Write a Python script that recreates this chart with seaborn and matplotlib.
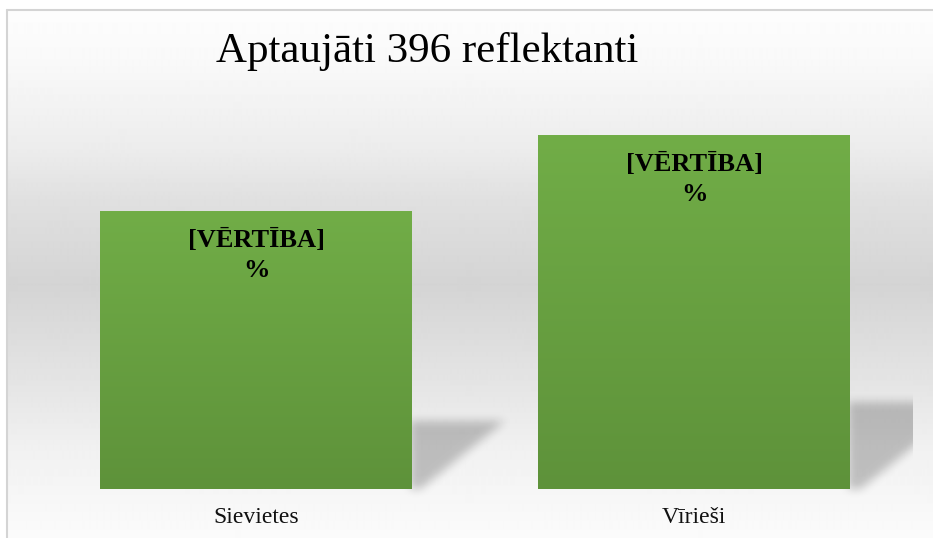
import numpy as np
import seaborn as sns
import matplotlib
matplotlib.use("Agg")
import matplotlib.pyplot as plt
from matplotlib.colors import LinearSegmentedColormap
from matplotlib.lines import Line2D
from matplotlib.path import Path

# data
categories = ["Sievietes", "Vīrieši"]
values = [44, 56]
bar_label = "[VĒRTĪBA]\n%"
title = "Aptaujāti 396 reflektanti"

sns.set_theme(style="white")
plt.rcParams['font.family'] = ['Liberation Serif', 'DejaVu Serif']

W, H = 933, 538


def fx(px):
    return px / W


def fy(py):
    # pixel row from top -> figure fraction
    return 1 - py / H


def box_blur(a, r):
    for axis in (0, 1):
        n = a.shape[axis]
        pad = [(r, r) if i == axis else (0, 0) for i in range(2)]
        c = np.cumsum(np.pad(a, pad, mode='edge'), axis=axis)
        c = np.insert(c, 0, 0, axis=axis)
        if axis == 0:
            a = (c[2 * r + 1:2 * r + 1 + n] - c[:n]) / (2 * r + 1)
        else:
            a = (c[:, 2 * r + 1:2 * r + 1 + n] - c[:, :n]) / (2 * r + 1)
    return a


fig = plt.figure(figsize=(9.33, 5.38), dpi=100)

# chart area background: white -> grey -> white
bg = fig.add_axes([fx(8), 0, 1 - fx(8), fy(10)], zorder=0)
rows = np.arange(10, H)
grey = np.interp(rows, [10, 60, 150, 200, 285, 380, 450, 538],
                 [253, 249, 236, 224, 212, 228, 241, 251]) / 255
bg.imshow(np.repeat(grey[:, None], 2, axis=1), cmap='gray', vmin=0, vmax=1,
          aspect='auto', extent=(0, 1, 0, 1), interpolation='bilinear')
bg.set_axis_off()

# main axes
ax = fig.add_axes([fx(37), 1 - 489 / H, fx(876), 379 / H], zorder=2)
ax.patch.set_visible(False)
sns.barplot(x=categories, y=values, width=0.712, color='#70ad47',
            saturation=1, ax=ax)
ax.set_xlim(-0.5, 1.5)
ax.set_ylim(0, 60)
sns.despine(ax=ax, left=True, bottom=True)
ax.set_yticks([])
ax.set_xlabel('')
ax.set_ylabel('')
ax.tick_params(axis='x', length=0, pad=13, labelsize=17, labelcolor='#111111')

# gradient fill on each bar
bar_cmap = LinearSegmentedColormap.from_list('bar', ['#5e923a', '#71ad47'])
grad = np.linspace(0, 1, 256).reshape(-1, 1)
for patch in ax.patches:
    patch.set_edgecolor('none')
    x0, w, h = patch.get_x(), patch.get_width(), patch.get_height()
    im = ax.imshow(grad, extent=(x0, x0 + w, 0, h), origin='lower',
                   cmap=bar_cmap, aspect='auto', zorder=patch.get_zorder() + 0.1)
    im.set_clip_path(patch)
    ax.annotate(bar_label, xy=(x0 + w / 2, h), xytext=(0, -18),
                textcoords='offset pixels', ha='center', va='top',
                fontsize=19, fontweight='bold', color='black',
                linespacing=1.4, zorder=5)
ax.set_xlim(-0.5, 1.5)
ax.set_ylim(0, 60)

# soft perspective shadows behind the bars
sh = fig.add_axes([0, 0, 1, 1], zorder=1)
sh.set_axis_off()
xs = np.arange(W) + 0.5
ys = np.arange(H) + 0.5
XX, YY = np.meshgrid(xs, ys)
pts = np.column_stack([XX.ravel(), YY.ravel()])
mask = np.zeros((H, W))
for patch in ax.patches:
    x0, w, h = patch.get_x(), patch.get_width(), patch.get_height()
    (xl, yb), (xr, yt) = ax.transData.transform([(x0, 0), (x0 + w, h)])
    hb = yt - yb
    poly = [(xr - 2, yb), (xr - 2, yb + 0.245 * hb),
            (xr + 0.335 * hb, yb + 0.245 * hb), (xr + 0.03 * hb, yb)]
    mask = np.maximum(mask, Path(poly).contains_points(pts).reshape(H, W))
for _ in range(3):
    mask = box_blur(mask, 4)
ax_right = ax.transAxes.transform((1, 0))[0]
mask[:, xs > ax_right] = 0
shadow = np.zeros((H, W, 4))
shadow[..., 3] = 0.22 * mask
sh.imshow(shadow, origin='lower', extent=(0, W, 0, H), aspect='auto')
sh.set_xlim(0, W)
sh.set_ylim(0, H)

# chart border (left and top)
fig.add_artist(Line2D([fx(7.5), fx(7.5)], [0, fy(9.5)], transform=fig.transFigure,
                      color='#d4d4d4', lw=1.5))
fig.add_artist(Line2D([fx(7.5), 1], [fy(9.5), fy(9.5)], transform=fig.transFigure,
                      color='#d4d4d4', lw=1.5))

fig.text(fx(427), fy(62), title, ha='center', va='baseline',
         fontsize=31, color='black')

plt.savefig('out.png', dpi=100)
